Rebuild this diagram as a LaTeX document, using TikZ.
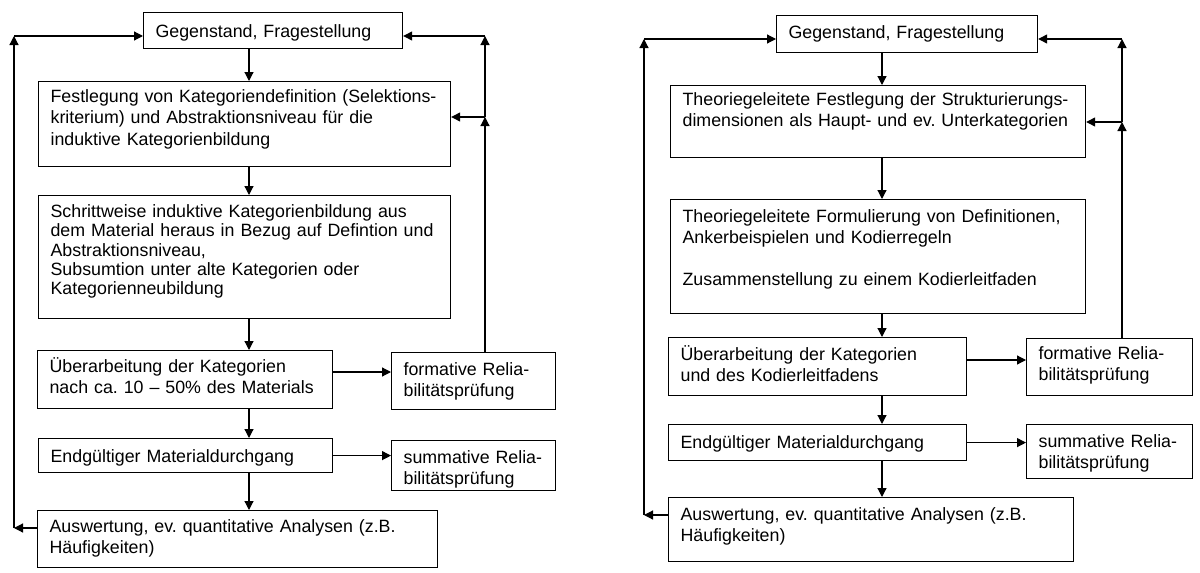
\documentclass[tikz,border=0pt]{standalone}
\usepackage{fontspec}
\setmainfont{Liberation Sans}
\usetikzlibrary{arrows.meta}
\frenchspacing

\begin{document}
\begin{tikzpicture}[x=0.5pt, y=-0.5pt,
    box/.style={rectangle, draw, line width=0.6pt, anchor=north west, inner xsep=6pt, inner ysep=0pt, align=left, font=\fontsize{8.9}{10.6}\selectfont},
    dims/.style n args={3}{text width=#1, text height=#2, text depth=#3},
    arrow/.style={->, >={Triangle[length=4.5pt, width=4.5pt]}, line width=0.6pt}
  ]
    \useasboundingbox (0,0) rectangle (1200,573);

    % linkes Ablaufmodell
    \node[box, dims={117.5pt}{12.5pt}{5.5pt}] (gegL) at (143,12) {Gegenstand, Fragestellung};
    \node[box, dims={194pt}{10.5pt}{32pt}] (festL) at (38,81) {Festlegung von Kategoriendefinition (Selektions-\\kriterium) und Abstraktionsniveau für die\\induktive Kategorienbildung};
    \node[box, dims={194pt}{11pt}{50.5pt}, font=\fontsize{8.9}{9.6}\selectfont] (schrL) at (38,195) {Schrittweise induktive Kategorienbildung aus\\dem Material heraus in Bezug auf Defintion und\\Abstraktionsniveau,\\Subsumtion unter alte Kategorien oder\\Kategorienneubildung};
    \node[box, dims={135.5pt}{11pt}{18pt}] (uebL) at (37,350) {Überarbeitung der Kategorien\\nach ca. 10 – 50\% des Materials};
    \node[box, dims={70pt}{11.5pt}{17pt}] (formL) at (391,352) {formative Relia-\\bilitätsprüfung};
    \node[box, dims={135pt}{12pt}{5pt}] (endL) at (38,438) {Endgültiger Materialdurchgang};
    \node[box, dims={70pt}{11.5pt}{13.5pt}] (summL) at (391,440) {summative Relia-\\bilitätsprüfung};
    \node[box, dims={188pt}{11pt}{17.5pt}] (ausL) at (37,510) {Auswertung, ev. quantitative Analysen (z.B.\\Häufigkeiten)};

    % Pfeile links
    \coordinate (axL) at (249,0);
    \coordinate (hL) at (0,372);
    \draw[arrow] (gegL.south -| axL) -- (festL.north -| axL);
    \draw[arrow] (festL.south -| axL) -- (schrL.north -| axL);
    \draw[arrow] (schrL.south -| axL) -- (uebL.north -| axL);
    \draw[arrow] (uebL.south -| axL) -- (endL.north -| axL);
    \draw[arrow] (endL.south -| axL) -- (ausL.north -| axL);
    \draw[arrow] (uebL.east |- hL) -- (formL.west |- hL);
    \draw[arrow] (endL.east) -- (summL.west |- endL.east);

    % Rueckkopplung links
    \coordinate (lbL) at (14,528);
    \coordinate (ltL) at (14,36);
    \coordinate (rbL) at (485,117);
    \coordinate (rtL) at (485,36);
    \draw[arrow] (ausL.west |- lbL) -- (lbL);
    \draw[arrow] (lbL) -- (ltL);
    \draw[arrow] (ltL) -- (gegL.west |- ltL);
    \draw[arrow] (formL.north -| rbL) -- (rbL);
    \draw[arrow] (rbL) -- (rtL);
    \draw[arrow] (rbL) -- (festL.east |- rbL);
    \draw[arrow] (rtL) -- (gegL.east |- rtL);

    % rechtes Ablaufmodell
    \node[box, dims={118.5pt}{11.5pt}{7pt}] (gegR) at (776,15) {Gegenstand, Fragestellung};
    \node[box, dims={195.5pt}{10pt}{26pt}] (festR) at (670,85) {Theoriegeleitete Festlegung der Strukturierungs-\\dimensionen als Haupt- und ev. Unterkategorien};
    \node[box, dims={195.5pt}{11.5pt}{45.5pt}] (formuR) at (670,199) {Theoriegeleitete Formulierung von Definitionen,\\Ankerbeispielen und Kodierregeln\\[10.2pt]Zusammenstellung zu einem Kodierleitfaden};
    \node[box, dims={137pt}{11.5pt}{17.5pt}] (uebR) at (668,337) {Überarbeitung der Kategorien\\und des Kodierleitfadens};
    \node[box, dims={71pt}{10.5pt}{18pt}] (formR) at (1026,338) {formative Relia-\\bilitätsprüfung};
    \node[box, dims={137pt}{12pt}{6pt}] (endR) at (668,424) {Endgültiger Materialdurchgang};
    \node[box, dims={71pt}{11.5pt}{15.5pt}] (summR) at (1026,424) {summative Relia-\\bilitätsprüfung};
    \node[box, dims={190.5pt}{11.5pt}{20.5pt}] (ausR) at (668,497) {Auswertung, ev. quantitative Analysen (z.B.\\Häufigkeiten)};

    % Pfeile rechts
    \coordinate (axR) at (882,0);
    \coordinate (hR) at (0,360);
    \draw[arrow] (gegR.south -| axR) -- (festR.north -| axR);
    \draw[arrow] (festR.south -| axR) -- (formuR.north -| axR);
    \draw[arrow] (formuR.south -| axR) -- (uebR.north -| axR);
    \draw[arrow] (uebR.south -| axR) -- (endR.north -| axR);
    \draw[arrow] (endR.south -| axR) -- (ausR.north -| axR);
    \draw[arrow] (uebR.east |- hR) -- (formR.west |- hR);
    \draw[arrow] (endR.east) -- (summR.west |- endR.east);

    % Rueckkopplung rechts
    \coordinate (lbR) at (644,515);
    \coordinate (ltR) at (644,39);
    \coordinate (rbR) at (1122,122);
    \coordinate (rtR) at (1122,39);
    \draw[arrow] (ausR.west |- lbR) -- (lbR);
    \draw[arrow] (lbR) -- (ltR);
    \draw[arrow] (ltR) -- (gegR.west |- ltR);
    \draw[arrow] (formR.north -| rbR) -- (rbR);
    \draw[arrow] (rbR) -- (rtR);
    \draw[arrow] (rbR) -- (festR.east |- rbR);
    \draw[arrow] (rtR) -- (gegR.east |- rtR);
  \end{tikzpicture}
\end{document}
